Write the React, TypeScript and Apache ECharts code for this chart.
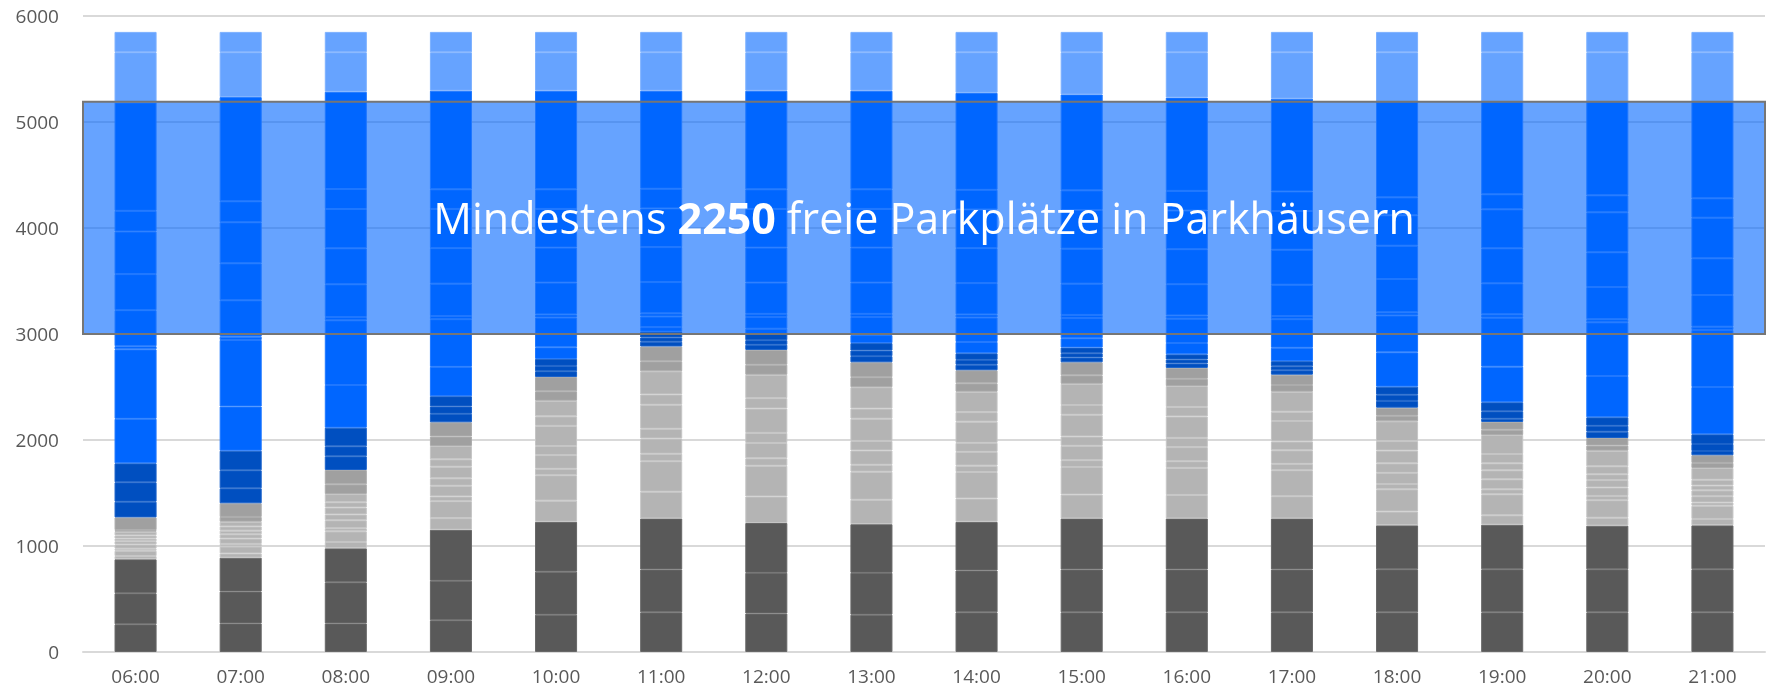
import React, { useEffect, useRef } from "react";
import * as echarts from "echarts";

const categories = ["06:00","07:00","08:00","09:00","10:00","11:00","12:00","13:00","14:00","15:00","16:00","17:00","18:00","19:00","20:00","21:00"];

const darkGray1 = [261,270,270,299,352,374,363,352,374,374,374,374,374,374,374,374];
const darkGray2 = [293,300,387,373,406,405,384,395,395,405,405,405,406,406,406,406];
const darkGray3 = [321,320,321,481,470,481,470,459,459,481,481,481,415,421,412,415];

const lightGray1 = [30,40,60,110,200,252,250,230,220,225,222,210,130,89,75,60];
const lightGray2 = [50,65,100,160,240,288,290,265,250,260,255,245,210,198,165,125];
const lightGray3 = [20,25,30,45,60,70,70,65,60,65,63,60,50,47,40,30];
const lightGray4 = [40,50,75,100,130,144,145,135,130,135,133,128,105,94,80,60];
const lightGray5 = [30,40,55,70,85,92,95,90,85,88,87,83,90,85,70,55];
const lightGray6 = [25,35,65,110,190,226,230,210,200,205,202,193,120,66,55,45];
const lightGray7 = [30,40,50,70,90,98,98,95,90,92,90,88,90,88,75,55];
const lightGray8 = [35,44,77,125,147,218,220,202,192,200,197,188,186,179,147,111];

const midGray1 = [15,45,92,90,90,95,95,95,80,80,68,64,52,50,48,48];
const midGray2 = [120,129,135,134,134,139,140,140,123,123,103,97,77,73,72,72];

const darkBlue1 = [148,141,129,80,55,45,48,58,52,45,42,42,64,31,60,40];
const darkBlue2 = [183,170,94,70,50,40,44,53,46,40,37,37,58,70,55,66];
const darkBlue3 = [179,185,176,96,66,54,58,70,62,54,49,49,76,85,80,92];

const blue1 = [420,417,403,277,110,44,50,76,107,88,107,126,324,336,390,446];
const blue2 = [655,627,610,450,280,100,110,170,230,190,230,270,348,462,506,538];
const blue3 = [30,32,31,30,30,30,30,30,30,30,30,30,30,32,30,31];
const blue4 = [340,343,309,305,300,295,295,295,295,295,295,295,314,292,303,299];
const blue5 = [340,349,339,335,330,330,330,330,330,330,330,330,314,330,328,346];
const blue6 = [402,387,371,370,365,365,365,365,365,365,365,365,287,368,377,383];
const blue7 = [195,198,189,185,185,185,185,185,185,185,185,185,169,142,160,183];
const blue8 = [1023,983,917,930,930,925,930,930,915,905,880,875,901,872,882,910];

const lightBlue1 = [473,423,373,363,363,363,363,363,383,398,428,438,468,468,468,468];
const lightBlue2 = [192,192,192,192,192,192,192,192,192,192,192,192,192,192,192,192];

const bandLow = 3000;
const bandHigh = 5190;
const minFree = 2250;

const groups = [
  { color: "#595959", edge: "#686868", segs: [darkGray1, darkGray2, darkGray3] },
  { color: "#b4b4b4", edge: "#c6c6c6", segs: [lightGray1, lightGray2, lightGray3, lightGray4, lightGray5, lightGray6, lightGray7, lightGray8] },
  { color: "#a0a0a0", edge: "#adadad", segs: [midGray1, midGray2] },
  { color: "#004fc0", edge: "#1a62ca", segs: [darkBlue1, darkBlue2, darkBlue3] },
  { color: "#0066ff", edge: "#1f78ff", segs: [blue1, blue2, blue3, blue4, blue5, blue6, blue7, blue8] },
  { color: "#66a3ff", edge: "#7db1ff", segs: [lightBlue1, lightBlue2] },
];

export default function App() {
  const ref = useRef<HTMLDivElement>(null);
  useEffect(() => {
    if (!ref.current) return;
    const chart = echarts.init(ref.current, null, { renderer: "svg" });
    const barSeries: any[] = [];
    groups.forEach((g, gi) => {
      g.segs.forEach((s, si) => {
        barSeries.push({
          type: "bar",
          name: `g${gi}_${si}`,
          stack: "total",
          barWidth: "40%",
          z: 3,
          data: s,
          itemStyle: { color: g.color, borderColor: g.edge, borderWidth: 1 },
          emphasis: { disabled: true },
        });
      });
    });
    const font = "'Open Sans', Lato, sans-serif";
    chart.setOption({
      animation: false,
      grid: { left: 83, right: 10, top: 16, bottom: 43 },
      xAxis: {
        type: "category",
        data: categories,
        axisTick: { show: false },
        axisLine: { lineStyle: { color: "#d9d9d9", width: 2 } },
        axisLabel: { color: "#595959", fontSize: 19, fontFamily: font, margin: 14 },
      },
      yAxis: {
        type: "value",
        min: 0,
        max: 6000,
        interval: 1000,
        axisLabel: { color: "#595959", fontSize: 19, fontFamily: font, margin: 24, formatter: (v: number) => String(v) },
        splitLine: { lineStyle: { color: "#d9d9d9", width: 2 } },
      },
      series: [
        {
          type: "line",
          data: [],
          z: 1,
          silent: true,
          markArea: {
            z: 1,
            silent: true,
            itemStyle: { color: "rgba(0,102,255,0.6)" },
            data: [[{ yAxis: bandLow }, { yAxis: bandHigh }]],
          },
        },
        ...barSeries,
        {
          type: "line",
          data: [],
          z: 10,
          silent: true,
          markArea: {
            z: 10,
            silent: true,
            itemStyle: { color: "rgba(0,0,0,0)", borderColor: "#767676", borderWidth: 2 },
            label: {
              show: true,
              position: "inside",
              formatter: `{a|Mindestens }{b|${minFree}}{a| freie Parkplätze in Parkhäusern}`,
              rich: {
                a: { color: "#ffffff", fontSize: 43, fontFamily: font, fontWeight: "normal" },
                b: { color: "#ffffff", fontSize: 43, fontFamily: font, fontWeight: "bold" },
              },
            },
            data: [[{ yAxis: bandLow }, { yAxis: bandHigh }]],
          },
        },
      ],
    });
    return () => chart.dispose();
  }, []);
  return <div ref={ref} style={{ position: "fixed", left: 0, top: 0, width: 1775, height: 695 }} />;
}
